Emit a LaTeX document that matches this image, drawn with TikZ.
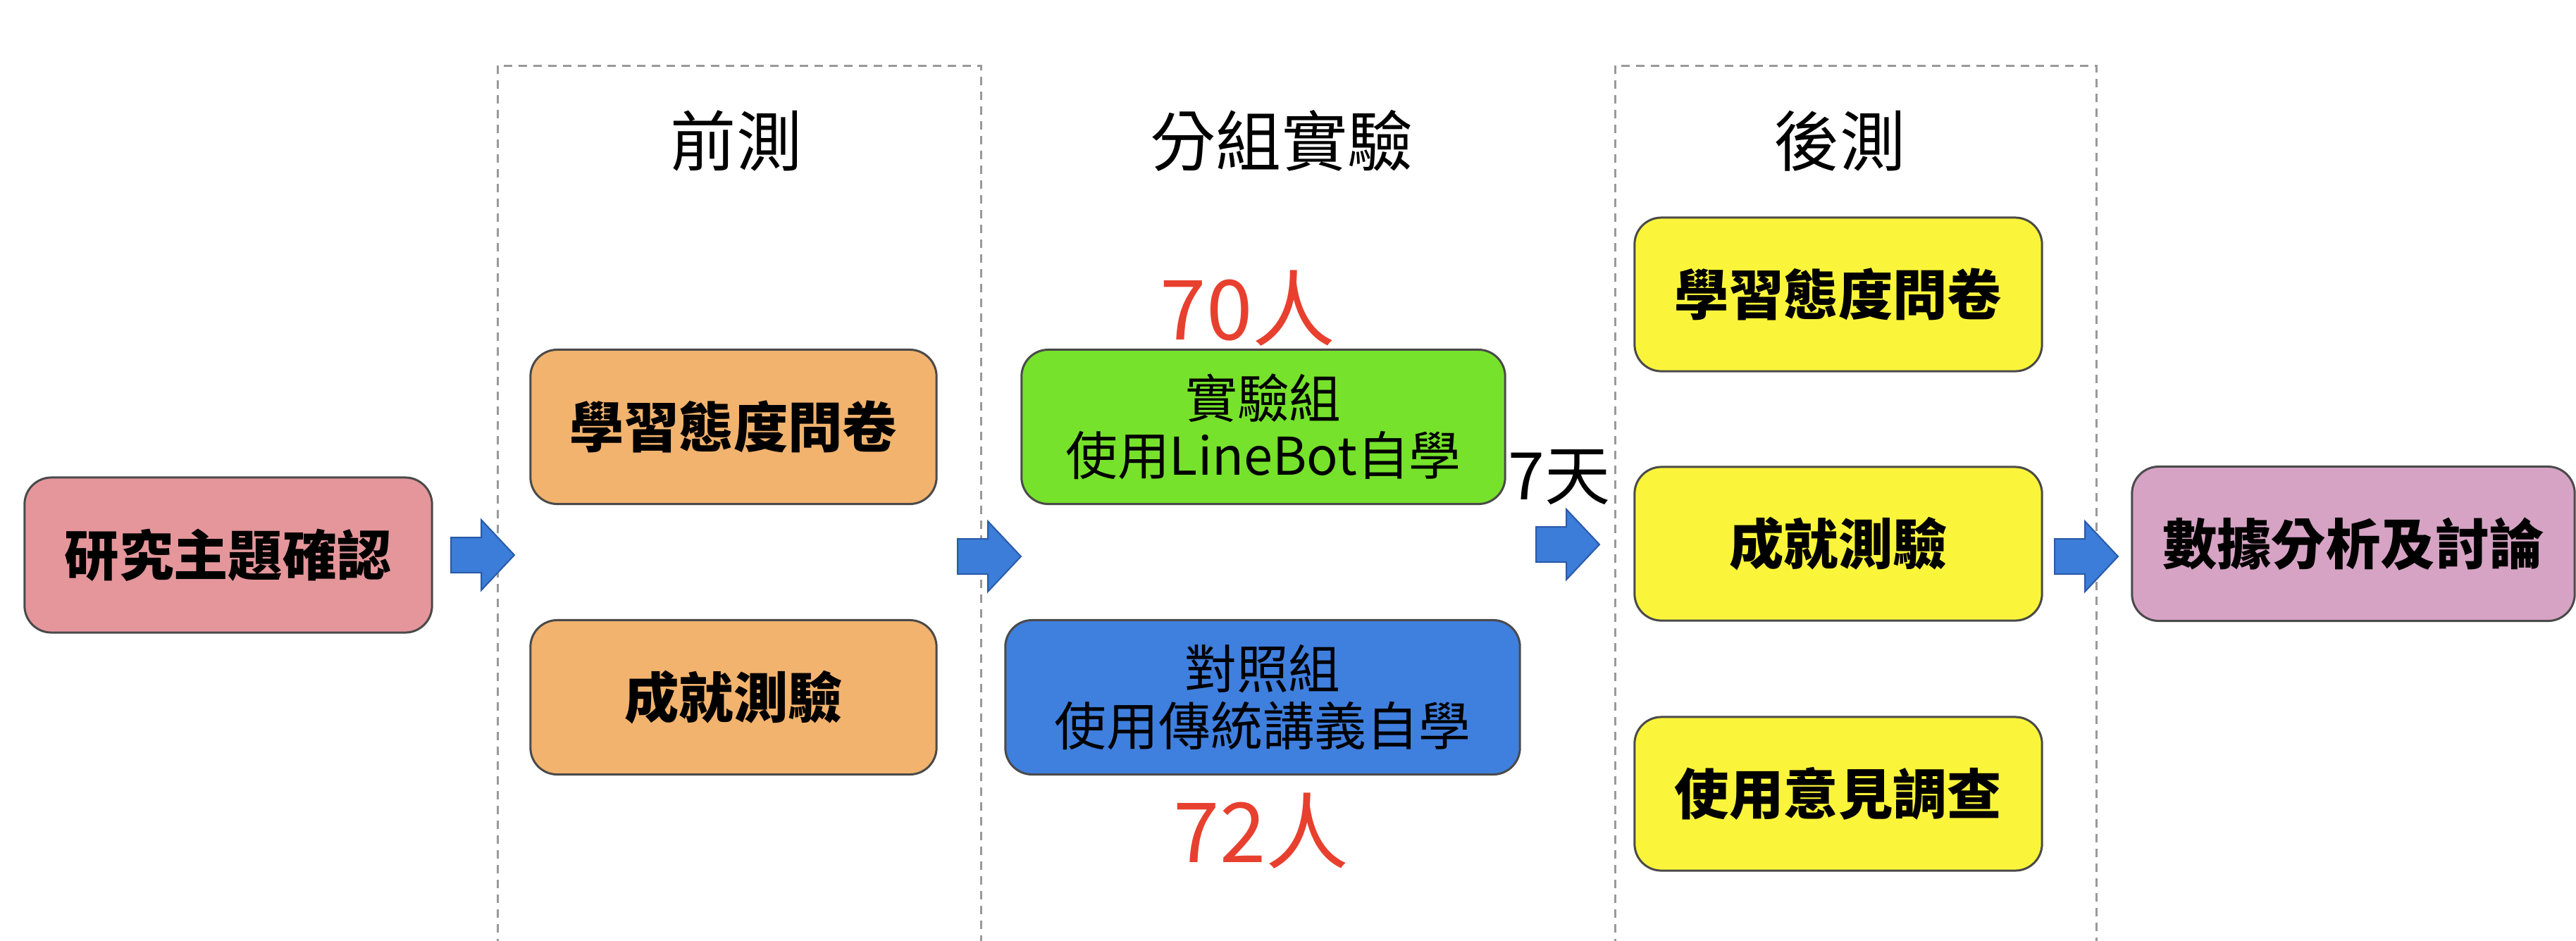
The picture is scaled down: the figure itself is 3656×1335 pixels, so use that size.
\documentclass[tikz,border=0pt]{standalone}
\usepackage{fontspec}
\setmainfont{Noto Sans CJK TC}
\definecolor{pinkf}{HTML}{E4969B}
\definecolor{orangef}{HTML}{F2B36E}
\definecolor{greenf}{HTML}{76E22B}
\definecolor{bluef}{HTML}{3F7FDE}
\definecolor{yellowf}{HTML}{FAF53A}
\definecolor{purplef}{HTML}{D6A3C4}
\definecolor{arrowf}{HTML}{3B7DD8}
\definecolor{arrowd}{HTML}{2A5AA8}
\definecolor{edgec}{HTML}{4A4A4A}
\definecolor{redt}{HTML}{E8402F}
\tikzset{
  box/.style={draw=edgec, line width=0.03cm, rounded corners=0.38cm, align=center, inner sep=0pt, minimum height=2.19cm},
  boldtxt/.style={font=\bfseries\fontsize{22}{26}\selectfont},
  grptxt/.style={font=\fontsize{21}{23}\selectfont},
  titletxt/.style={font=\fontsize{26.5}{30}\selectfont},
  redlabel/.style={text=redt, font=\fontsize{33.5}{36}\selectfont},
  frame/.style={draw=gray!80, line width=0.03cm, dash pattern=on 0.12cm off 0.09cm},
  blockarrow/.pic={\draw[fill=arrowf, draw=arrowd, line width=0.02cm, line join=miter]
     (-45,-25) -- (-2,-25) -- (-2,-50) -- (45,0) -- (-2,50) -- (-2,25) -- (-45,25) -- cycle;}
}
\begin{document}
\begin{tikzpicture}[x=0.01cm, y=-0.01cm]
\useasboundingbox[fill=white] (0,0) rectangle (3656,1335);
% dashed frames
\draw[frame] (706,1345) -- (706,93) -- (1392,93) -- (1392,1345);
\draw[frame] (2292,1345) -- (2292,93) -- (2975,93) -- (2975,1345);
% titles
\node[titletxt] (t1) at (1045,200) {前測};
\node[titletxt] (t2) at (1819,200) {分組實驗};
\node[titletxt] (t3) at (2611,200) {後測};
% boxes
\node[box, boldtxt, fill=pinkf, minimum width=5.78cm, minimum height=2.2cm] (topic) at (324,788) {研究主題確認};
\node[box, boldtxt, fill=orangef, minimum width=5.76cm] (pre1) at (1041,606) {學習態度問卷};
\node[box, boldtxt, fill=orangef, minimum width=5.76cm] (pre2) at (1041,990) {成就測驗};
\node[box, grptxt, fill=greenf, minimum width=6.86cm] (exp) at (1793,606) {實驗組\\使用LineBot自學};
\node[box, grptxt, fill=bluef, minimum width=7.30cm] (ctl) at (1792,990) {對照組\\使用傳統講義自學};
\node[box, boldtxt, fill=yellowf, minimum width=5.78cm, minimum height=2.18cm] (post1) at (2609,418) {學習態度問卷};
\node[box, boldtxt, fill=yellowf, minimum width=5.78cm, minimum height=2.18cm] (post2) at (2609,772) {成就測驗};
\node[box, boldtxt, fill=yellowf, minimum width=5.78cm, minimum height=2.18cm] (post3) at (2609,1127) {使用意見調查};
\node[box, boldtxt, fill=purplef, minimum width=6.28cm] (ana) at (3340,772) {數據分析及討論};
% labels
\node[redlabel] (n70) at (1771,438) {70人};
\node[redlabel] (n72) at (1790,1180) {72人};
\node[font=\fontsize{26.5}{30}\selectfont, inner sep=0pt] (days) at (2213,678) {7天};
% block arrows
\pic at (685,788) {blockarrow};
\pic at (1404,790) {blockarrow};
\pic at (2225,773) {blockarrow};
\pic at (2961,790) {blockarrow};
\end{tikzpicture}
\end{document}
